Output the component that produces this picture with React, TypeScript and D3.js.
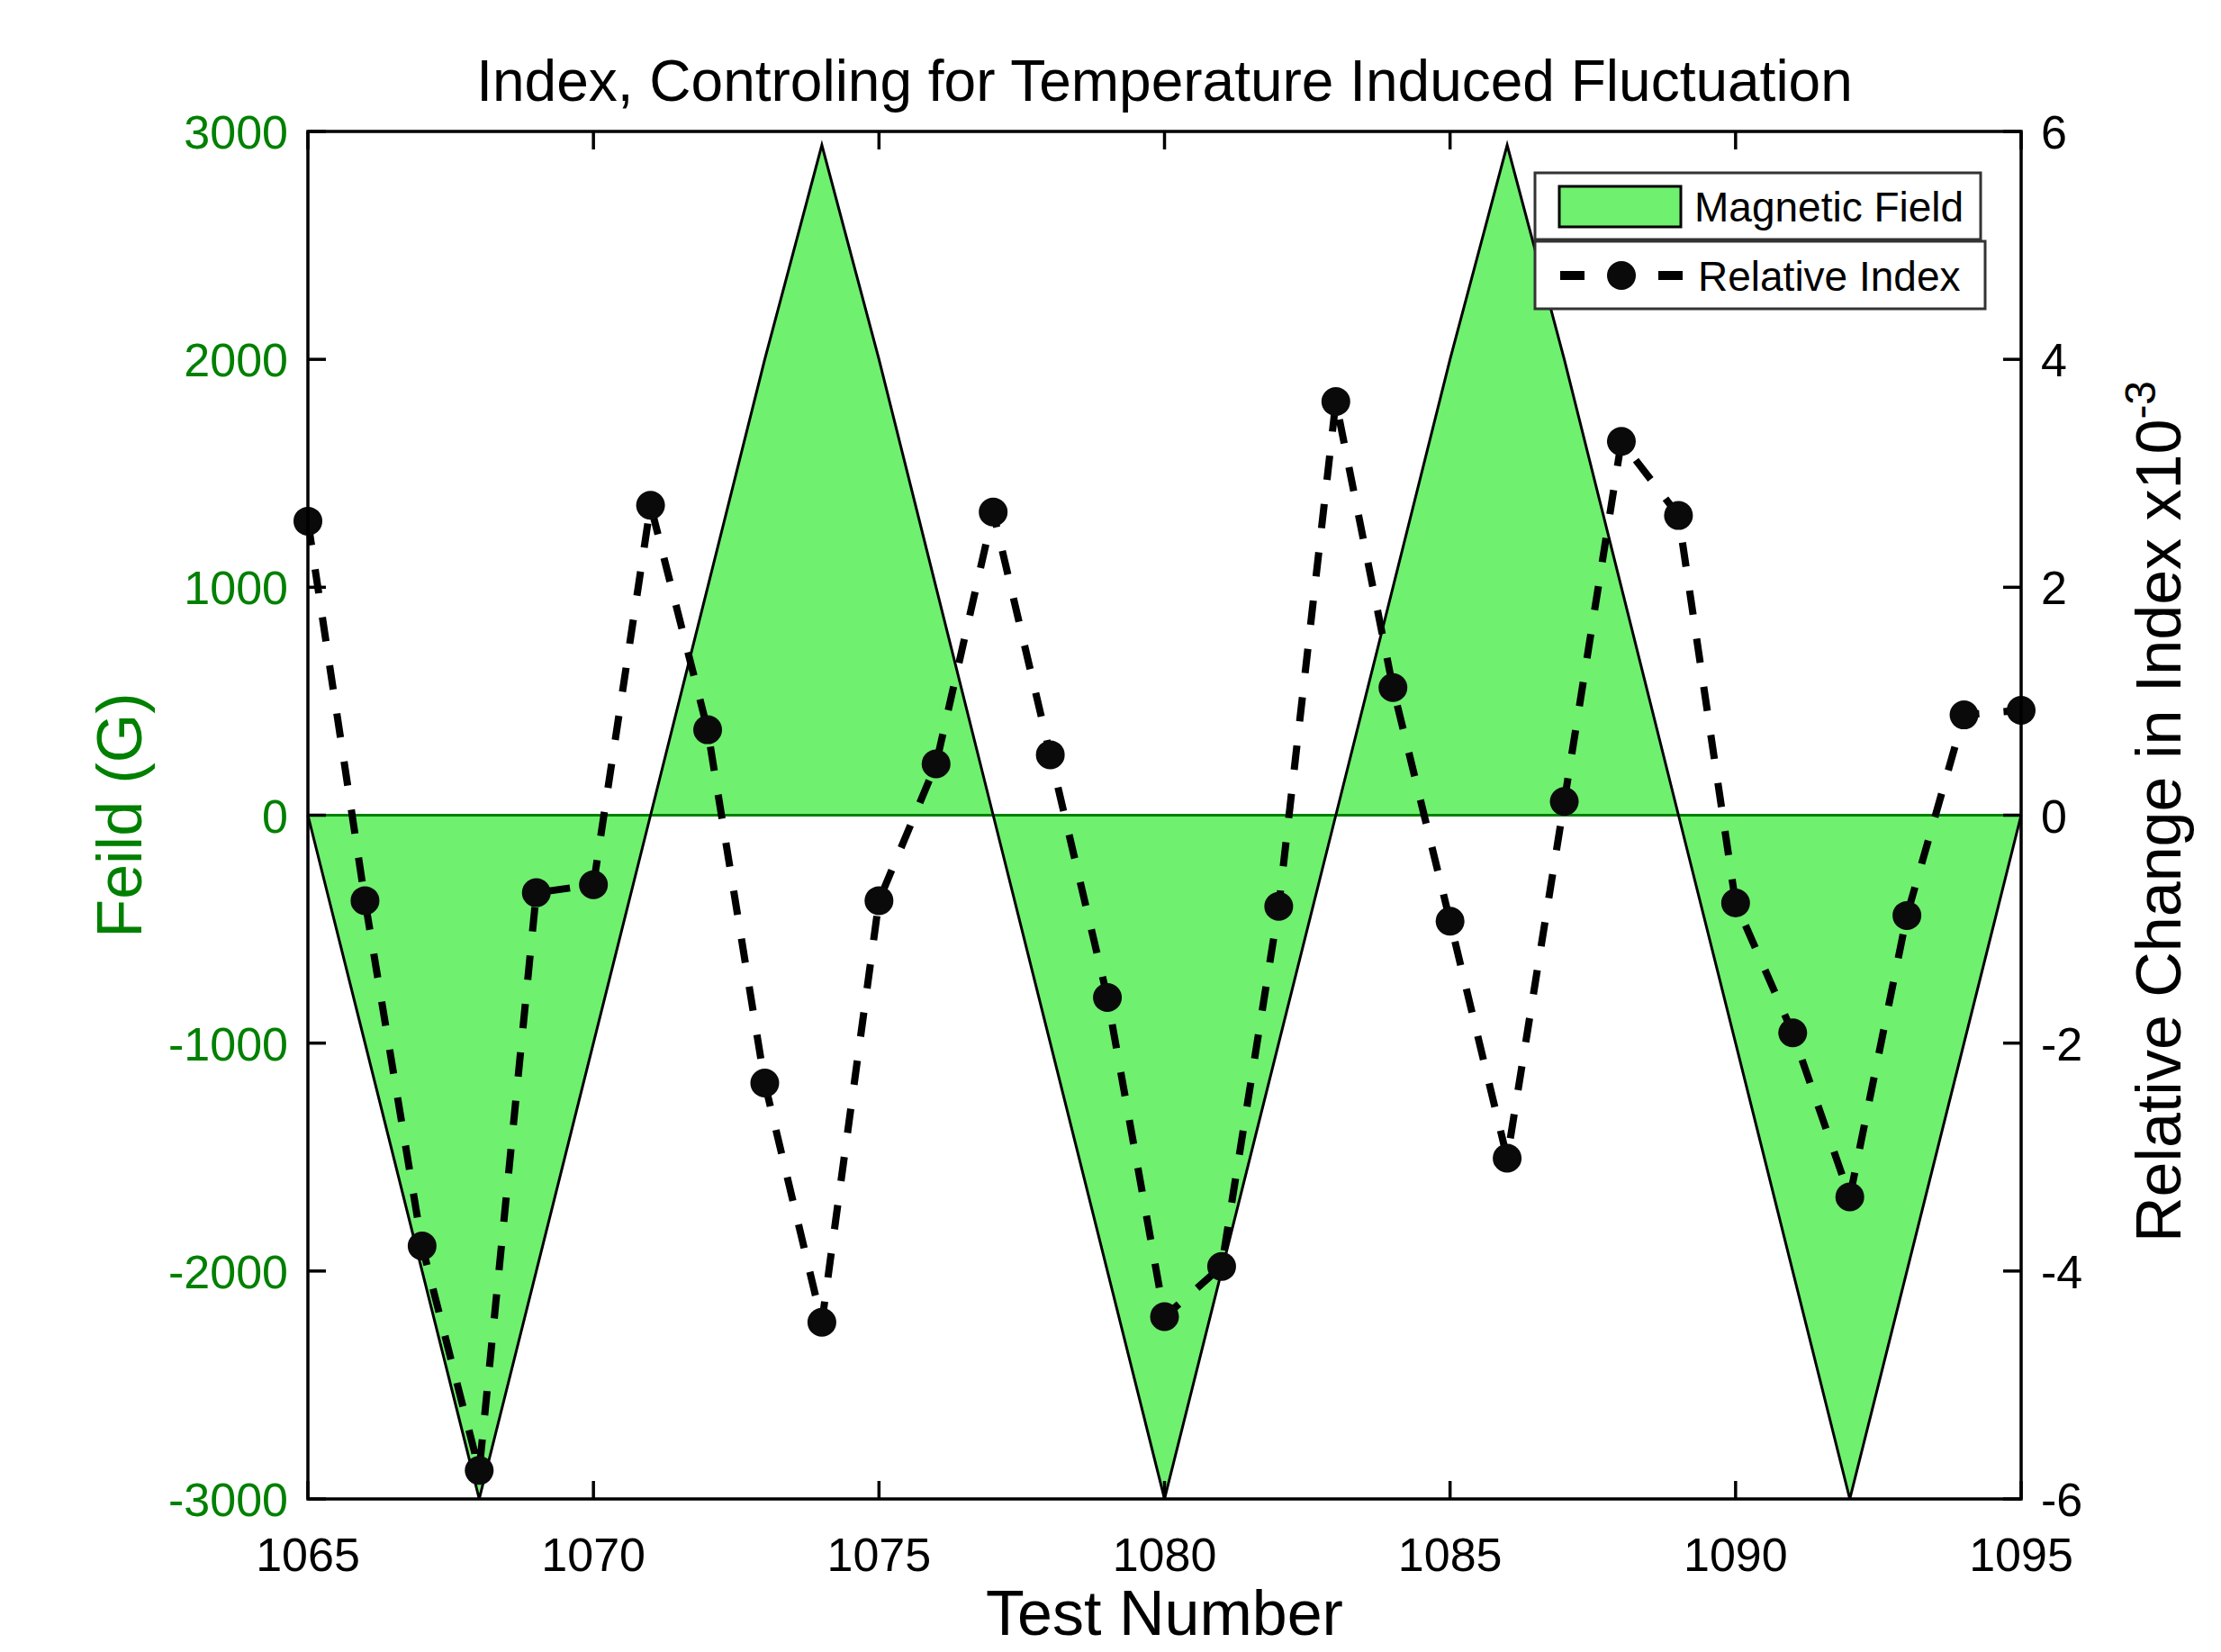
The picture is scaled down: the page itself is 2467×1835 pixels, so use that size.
import React, { useEffect, useRef } from 'react';
import * as d3 from 'd3';

// test numbers along the x axis
const testNumbers = [1065, 1066, 1067, 1068, 1069, 1070, 1071, 1072, 1073, 1074, 1075, 1076, 1077, 1078, 1079, 1080,
    1081, 1082, 1083, 1084, 1085, 1086, 1087, 1088, 1089, 1090, 1091, 1092, 1093, 1094, 1095];

// magnetic field (G), left axis
const fieldValues = [0, -1000, -2000, -3000, -2000, -1000, 0, 1000, 2000, 2940, 2000, 1000, 0, -1000, -2000, -3000,
    -2000, -1000, 0, 1000, 2000, 2940, 2000, 1000, 0, -1000, -2000, -3000, -2000, -1000, 0];

// relative change in index x10^-3, right axis
const indexValues = [2.58, -0.75, -3.78, -5.75, -0.68, -0.61, 2.72, 0.75, -2.35, -4.45, -0.75, 0.45, 2.66, 0.53, -1.6, -4.4,
    -3.96, -0.8, 3.63, 1.12, -0.93, -3.01, 0.12, 3.28, 2.63, -0.77, -1.91, -3.35, -0.88, 0.88, 0.92];

const xTicks = [1065, 1070, 1075, 1080, 1085, 1090, 1095];
const leftTicks = [-3000, -2000, -1000, 0, 1000, 2000, 3000];
const rightTicks = [-6, -4, -2, 0, 2, 4, 6];

const W = 2467, H = 1835;
const FONT = '"Liberation Sans", Arial, Helvetica, sans-serif';
const FILL = '#6ff06f';
const GREEN = '#008000';

export default function App() {
    const ref = useRef<SVGSVGElement>(null);

    useEffect(() => {
        const svg = d3.select(ref.current);
        svg.selectAll('*').remove();

        const left = 342, right = 2245, top = 146, bottom = 1665;
        const x = d3.scaleLinear().domain([1065, 1095]).range([left, right]);
        const yL = d3.scaleLinear().domain([-3000, 3000]).range([bottom, top]);
        const yR = d3.scaleLinear().domain([-6, 6]).range([bottom, top]);

        const field = testNumbers.map((t, i) => ({ t: t, v: fieldValues[i] }));
        const idx = testNumbers.map((t, i) => ({ t: t, v: indexValues[i] }));

        // filled field area
        svg.append('path')
            .datum(field)
            .attr('fill', FILL)
            .attr('d', d3.area<any>().x(d => x(d.t)).y0(yL(0)).y1(d => yL(d.v)));

        // zero line
        svg.append('line')
            .attr('x1', left).attr('x2', right)
            .attr('y1', yL(0)).attr('y2', yL(0))
            .attr('stroke', GREEN).attr('stroke-width', 3);

        // outline of the field
        svg.append('path')
            .datum(field)
            .attr('fill', 'none')
            .attr('stroke', 'black')
            .attr('stroke-width', 3)
            .attr('d', d3.line<any>().x(d => x(d.t)).y(d => yL(d.v)));

        // relative index
        svg.append('path')
            .datum(idx)
            .attr('fill', 'none')
            .attr('stroke', 'black')
            .attr('stroke-width', 8)
            .attr('stroke-dasharray', '27 27')
            .attr('d', d3.line<any>().x(d => x(d.t)).y(d => yR(d.v)));

        svg.append('g')
            .selectAll('circle')
            .data(idx)
            .join('circle')
            .attr('cx', d => x(d.t))
            .attr('cy', d => yR(d.v))
            .attr('r', 16)
            .attr('fill', '#0a0a0a');

        // frame
        svg.append('rect')
            .attr('x', left).attr('y', top)
            .attr('width', right - left).attr('height', bottom - top)
            .attr('fill', 'none')
            .attr('stroke', 'black')
            .attr('stroke-width', 3.5);

        const tickLen = 20;
        const axes = svg.append('g').attr('stroke', 'black').attr('stroke-width', 3.5);
        xTicks.forEach(t => {
            axes.append('line').attr('x1', x(t)).attr('x2', x(t)).attr('y1', bottom).attr('y2', bottom - tickLen);
            axes.append('line').attr('x1', x(t)).attr('x2', x(t)).attr('y1', top).attr('y2', top + tickLen);
        });
        leftTicks.forEach(t => {
            axes.append('line').attr('x1', left).attr('x2', left + tickLen).attr('y1', yL(t)).attr('y2', yL(t));
        });
        rightTicks.forEach(t => {
            axes.append('line').attr('x1', right).attr('x2', right - tickLen).attr('y1', yR(t)).attr('y2', yR(t));
        });

        const labels = svg.append('g').attr('font-family', FONT);

        labels.selectAll('.xl')
            .data(xTicks)
            .join('text')
            .attr('x', d => x(d))
            .attr('y', 1745)
            .attr('text-anchor', 'middle')
            .attr('font-size', 52)
            .text(d => d);

        labels.selectAll('.ll')
            .data(leftTicks)
            .join('text')
            .attr('x', 320)
            .attr('y', d => yL(d) + 19)
            .attr('text-anchor', 'end')
            .attr('font-size', 52)
            .attr('fill', GREEN)
            .text(d => d);

        labels.selectAll('.rl')
            .data(rightTicks)
            .join('text')
            .attr('x', 2267)
            .attr('y', d => yR(d) + 19)
            .attr('text-anchor', 'start')
            .attr('font-size', 52)
            .text(d => d);

        // titles
        labels.append('text')
            .attr('x', (left + right) / 2)
            .attr('y', 112)
            .attr('text-anchor', 'middle')
            .attr('font-size', 64)
            .text('Index, Controling for Temperature Induced Fluctuation');

        labels.append('text')
            .attr('x', (left + right) / 2)
            .attr('y', 1816)
            .attr('text-anchor', 'middle')
            .attr('font-size', 70)
            .text('Test Number');

        labels.append('text')
            .attr('transform', 'translate(157,' + yL(0) + ') rotate(-90)')
            .attr('text-anchor', 'middle')
            .attr('font-size', 70)
            .attr('fill', GREEN)
            .text('Feild (G)');

        const rt = labels.append('text')
            .attr('transform', 'translate(2422,' + (yR(0) - 4) + ') rotate(-90)')
            .attr('text-anchor', 'middle')
            .attr('font-size', 70);
        rt.append('tspan').text('Relative Change in Index x10');
        rt.append('tspan').attr('dy', -28).attr('font-size', 48).text('-3');

        // legend
        const lg = svg.append('g').attr('font-family', FONT);
        lg.append('rect')
            .attr('x', 1705).attr('y', 192).attr('width', 495).attr('height', 74)
            .attr('fill', 'white').attr('stroke', '#333').attr('stroke-width', 3);
        lg.append('rect')
            .attr('x', 1705).attr('y', 268).attr('width', 500).attr('height', 75)
            .attr('fill', 'white').attr('stroke', '#333').attr('stroke-width', 3);
        lg.append('rect')
            .attr('x', 1732).attr('y', 207).attr('width', 135).attr('height', 45)
            .attr('fill', FILL).attr('stroke', 'black').attr('stroke-width', 3);
        lg.append('text')
            .attr('x', 1882).attr('y', 246)
            .attr('font-size', 46)
            .text('Magnetic Field');
        lg.append('line')
            .attr('x1', 1733).attr('x2', 1760).attr('y1', 306).attr('y2', 306)
            .attr('stroke', 'black').attr('stroke-width', 10);
        lg.append('circle')
            .attr('cx', 1801).attr('cy', 306).attr('r', 16).attr('fill', '#0a0a0a');
        lg.append('line')
            .attr('x1', 1842).attr('x2', 1869).attr('y1', 306).attr('y2', 306)
            .attr('stroke', 'black').attr('stroke-width', 10);
        lg.append('text')
            .attr('x', 1886).attr('y', 323)
            .attr('font-size', 46)
            .text('Relative Index');
    }, []);

    return (
        <svg ref={ref} width={W} height={H}
            style={{ position: 'absolute', left: 0, top: 0, background: 'white' }} />
    );
}
